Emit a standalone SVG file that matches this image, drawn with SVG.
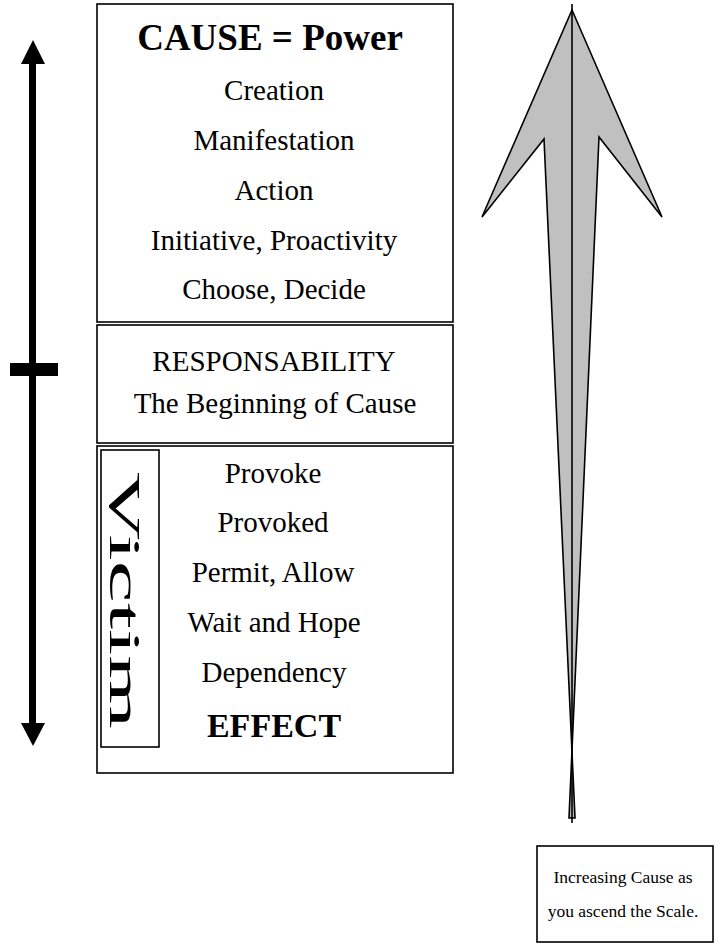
<svg xmlns="http://www.w3.org/2000/svg" width="719" height="944" viewBox="0 0 719 944">
  <style>
    .box { fill: #ffffff; stroke: #000000; stroke-width: 1.6; }
    .t { font-family: "Liberation Serif", "Times New Roman", serif; font-size: 29px; fill: #000; text-anchor: middle; }
    .b { font-weight: bold; }
    .note { font-family: "Liberation Serif", "Times New Roman", serif; font-size: 17.5px; fill: #000; text-anchor: middle; }
  </style>
  <rect x="0" y="0" width="719" height="944" fill="#ffffff"/>

  <!-- Scale axis on the left -->
  <g id="scale-axis">
    <rect x="29" y="62" width="7" height="663" fill="#000"/>
    <polygon points="33,40 45,64 21,64" fill="#000"/>
    <polygon points="33,746 45,723 21,723" fill="#000"/>
    <rect x="10" y="363" width="48" height="13" fill="#000"/>
  </g>

  <!-- Cause block -->
  <g id="cause">
    <rect class="box" x="97" y="4" width="356" height="318"/>
    <text class="t b" x="270" y="50" style="font-size:37px">CAUSE = Power</text>
    <text class="t" x="274" y="100">Creation</text>
    <text class="t" x="274" y="150">Manifestation</text>
    <text class="t" x="274" y="200">Action</text>
    <text class="t" x="274" y="250">Initiative, Proactivity</text>
    <text class="t" x="274" y="299">Choose, Decide</text>
  </g>

  <!-- Responsability block -->
  <g id="responsability">
    <rect class="box" x="97" y="325" width="356" height="118"/>
    <text class="t" x="274" y="371">RESPONSABILITY</text>
    <text class="t" x="275" y="413">The Beginning of Cause</text>
  </g>

  <!-- Effect block -->
  <g id="effect">
    <rect class="box" x="97" y="446" width="356" height="327"/>
    <rect class="box" x="101" y="450" width="58" height="297"/>
    <text transform="translate(110,472) rotate(90) scale(2.1,1)" x="0" y="0" style="font-family:'Liberation Serif','Times New Roman',serif;font-size:45px">Victim</text>
    <text class="t" x="273" y="483">Provoke</text>
    <text class="t" x="273" y="532">Provoked</text>
    <text class="t" x="273" y="582">Permit, Allow</text>
    <text class="t" x="274" y="632">Wait and Hope</text>
    <text class="t" x="274" y="682">Dependency</text>
    <text class="t b" x="274" y="737" style="font-size:34px">EFFECT</text>
  </g>

  <!-- Big ascending arrow -->
  <g id="ascend-arrow">
    <polygon points="572,10 662,217 599,137 569,818 575,818 544,139 482,217" fill="#c0c0c0" stroke="#000" stroke-width="1.6" stroke-linejoin="miter"/>
    <line x1="572" y1="4" x2="572" y2="823" stroke="#000" stroke-width="1.6"/>
  </g>

  <!-- Caption -->
  <g id="caption">
    <rect class="box" x="537" y="846" width="176" height="96"/>
    <text class="note" x="623" y="883">Increasing Cause as</text>
    <text class="note" x="623" y="917">you ascend the Scale.</text>
  </g>
</svg>
